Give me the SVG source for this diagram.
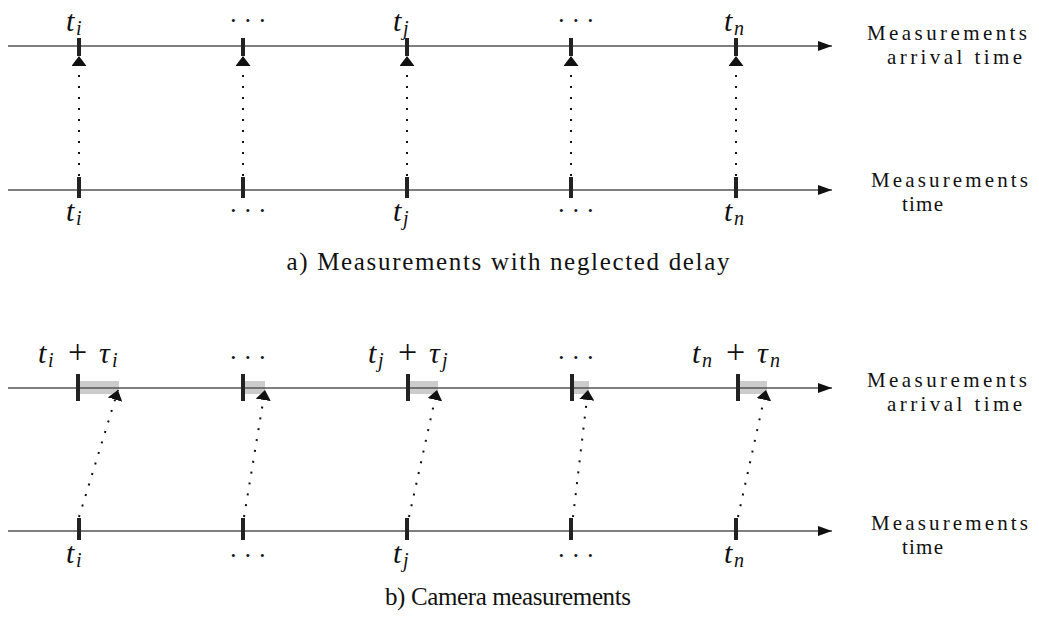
<svg xmlns="http://www.w3.org/2000/svg" width="1039" height="626" viewBox="0 0 1039 626" font-family="Liberation Serif, serif">
<style>
.axis{stroke:#555;stroke-width:1.5;fill:none}
.tick{fill:#222}
.dot{stroke:#111;stroke-width:2;stroke-dasharray:2 9;fill:none}
.delay{fill:#ccc}
.m{font-style:italic;font-size:30px;fill:#111}
.s{font-size:20px}
.r{font-style:normal}
.el{font-size:26px;fill:#111}
.lbl{font-size:21px;fill:#111}
.cap{font-size:25px;text-anchor:middle;fill:#111}
</style>
<defs>
<marker id="ah" viewBox="0 0 14 10" refX="14" refY="5" markerWidth="14" markerHeight="10" markerUnits="userSpaceOnUse" orient="auto">
<path d="M0,0 L14,5 L0,10 Z" fill="#111"/>
</marker>
<marker id="up" viewBox="0 0 10 15" refX="10" refY="7.5" markerWidth="10" markerHeight="15" markerUnits="userSpaceOnUse" orient="auto">
<path d="M0,0 L10,7.5 L0,15 Z" fill="#111"/>
</marker>
</defs>

<!-- ===== a) ===== -->
<g id="a-axis-top">
<line class="axis" x1="8" y1="46" x2="832" y2="46" marker-end="url(#ah)"/>
<text class="lbl" x="867" y="40" textLength="160" lengthAdjust="spacing">Measurements</text>
<text class="lbl" x="887" y="64" textLength="135" lengthAdjust="spacing">arrival time</text>
</g>
<g id="a-axis-bottom">
<line class="axis" x1="8" y1="190" x2="832" y2="190" marker-end="url(#ah)"/>
<text class="lbl" x="871" y="187" textLength="157" lengthAdjust="spacing">Measurements</text>
<text class="lbl" x="902" y="211" textLength="41" lengthAdjust="spacing">time</text>
</g>
<g id="a-ticks">
<rect class="tick" x="77" y="38" width="4" height="18"/>
<rect class="tick" x="241" y="38" width="4" height="18"/>
<rect class="tick" x="405" y="38" width="4" height="18"/>
<rect class="tick" x="569" y="38" width="4" height="18"/>
<rect class="tick" x="734" y="38" width="4" height="18"/>
<rect class="tick" x="77" y="177" width="4" height="21"/>
<rect class="tick" x="241" y="177" width="4" height="21"/>
<rect class="tick" x="405" y="177" width="4" height="21"/>
<rect class="tick" x="569" y="177" width="4" height="21"/>
<rect class="tick" x="734" y="177" width="4" height="21"/>
</g>
<g id="a-labels">
<text class="m"><tspan x="66" y="31">t</tspan><tspan class="s" x="76" y="35">i</tspan></text>
<text class="el" x="229 243.5 258" y="29">···</text>
<text class="m"><tspan x="393" y="31">t</tspan><tspan class="s" x="403" y="35">j</tspan></text>
<text class="el" x="557 571.5 586" y="29">···</text>
<text class="m"><tspan x="724" y="31">t</tspan><tspan class="s" x="734" y="35">n</tspan></text>
<text class="m"><tspan x="66" y="221">t</tspan><tspan class="s" x="76" y="225">i</tspan></text>
<text class="el" x="229 243.5 258" y="219">···</text>
<text class="m"><tspan x="393" y="221">t</tspan><tspan class="s" x="403" y="225">j</tspan></text>
<text class="el" x="557 571.5 586" y="219">···</text>
<text class="m"><tspan x="724" y="221">t</tspan><tspan class="s" x="734" y="225">n</tspan></text>
</g>
<g id="a-connectors">
<line class="dot" x1="79" y1="176" x2="79" y2="56" marker-end="url(#up)"/>
<line class="dot" x1="243" y1="176" x2="243" y2="56" marker-end="url(#up)"/>
<line class="dot" x1="407" y1="176" x2="407" y2="56" marker-end="url(#up)"/>
<line class="dot" x1="571" y1="176" x2="571" y2="56" marker-end="url(#up)"/>
<line class="dot" x1="736" y1="176" x2="736" y2="56" marker-end="url(#up)"/>
</g>
<text id="caption-a" class="cap" x="508" y="270" textLength="443" lengthAdjust="spacing">a) Measurements with neglected delay</text>

<!-- ===== b) ===== -->
<g id="b-delays">
<rect class="delay" x="80" y="381" width="39" height="13"/>
<rect class="delay" x="245" y="381" width="20" height="13"/>
<rect class="delay" x="410" y="381" width="28" height="13"/>
<rect class="delay" x="574" y="381" width="15" height="13"/>
<rect class="delay" x="740" y="381" width="27" height="13"/>
</g>
<g id="b-axis-top">
<line class="axis" x1="8" y1="388" x2="832" y2="388" marker-end="url(#ah)"/>
<text class="lbl" x="867" y="387" textLength="160" lengthAdjust="spacing">Measurements</text>
<text class="lbl" x="887" y="411" textLength="135" lengthAdjust="spacing">arrival time</text>
</g>
<g id="b-axis-bottom">
<line class="axis" x1="8" y1="531" x2="832" y2="531" marker-end="url(#ah)"/>
<text class="lbl" x="871" y="530" textLength="157" lengthAdjust="spacing">Measurements</text>
<text class="lbl" x="902" y="554" textLength="41" lengthAdjust="spacing">time</text>
</g>
<g id="b-ticks">
<rect class="tick" x="76" y="374" width="4" height="27"/>
<rect class="tick" x="241" y="374" width="4" height="27"/>
<rect class="tick" x="406" y="374" width="4" height="27"/>
<rect class="tick" x="570" y="374" width="4" height="27"/>
<rect class="tick" x="736" y="374" width="4" height="27"/>
<rect class="tick" x="77" y="518" width="4" height="22"/>
<rect class="tick" x="241" y="518" width="4" height="22"/>
<rect class="tick" x="405" y="518" width="4" height="22"/>
<rect class="tick" x="569" y="518" width="4" height="22"/>
<rect class="tick" x="734" y="518" width="4" height="22"/>
</g>
<g id="b-labels">
<text class="m"><tspan x="38" y="363">t</tspan><tspan class="s" x="48" y="367">i</tspan><tspan class="r" x="68" y="363" font-size="34">+</tspan><tspan x="99" y="363">τ</tspan><tspan class="s" x="112" y="367">i</tspan></text>
<text class="el" x="229 243.5 258" y="366">···</text>
<text class="m"><tspan x="368" y="363">t</tspan><tspan class="s" x="378" y="367">j</tspan><tspan class="r" x="398" y="363" font-size="34">+</tspan><tspan x="429" y="363">τ</tspan><tspan class="s" x="442" y="367">j</tspan></text>
<text class="el" x="557 571.5 586" y="366">···</text>
<text class="m"><tspan x="692" y="363">t</tspan><tspan class="s" x="702" y="367">n</tspan><tspan class="r" x="726" y="363" font-size="34">+</tspan><tspan x="757" y="363">τ</tspan><tspan class="s" x="770" y="367">n</tspan></text>
<text class="m"><tspan x="66" y="563">t</tspan><tspan class="s" x="76" y="567">i</tspan></text>
<text class="el" x="229 243.5 258" y="564">···</text>
<text class="m"><tspan x="393" y="563">t</tspan><tspan class="s" x="403" y="567">j</tspan></text>
<text class="el" x="557 571.5 586" y="564">···</text>
<text class="m"><tspan x="724" y="563">t</tspan><tspan class="s" x="734" y="567">n</tspan></text>
</g>
<g id="b-connectors">
<line class="dot" x1="79" y1="517" x2="118" y2="390" marker-end="url(#up)"/>
<line class="dot" x1="244" y1="517" x2="265" y2="390" marker-end="url(#up)"/>
<line class="dot" x1="409" y1="517" x2="437" y2="390" marker-end="url(#up)"/>
<line class="dot" x1="573" y1="517" x2="588" y2="390" marker-end="url(#up)"/>
<line class="dot" x1="738" y1="517" x2="766" y2="390" marker-end="url(#up)"/>
</g>
<text id="caption-b" class="cap" x="508" y="605" textLength="246" lengthAdjust="spacing">b) Camera measurements</text>
</svg>
